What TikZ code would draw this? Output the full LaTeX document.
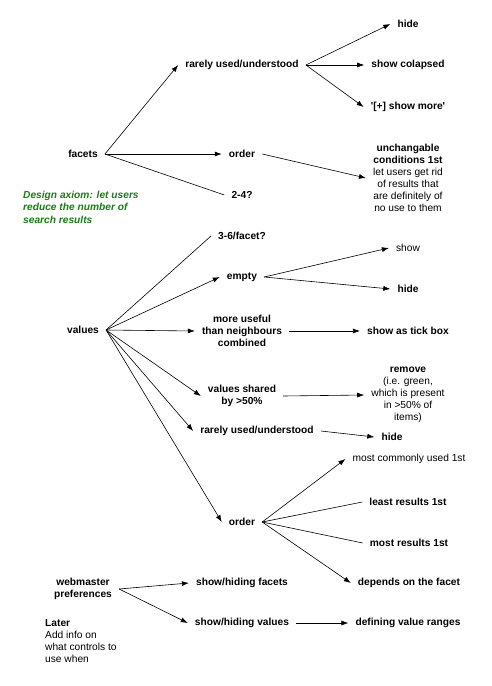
\documentclass[tikz,border=0pt]{standalone}
\usepackage{fontspec}
\setmainfont{Liberation Sans}
\usetikzlibrary{arrows.meta}
\definecolor{axiomgreen}{RGB}{25,125,20}
\begin{document}
\begin{tikzpicture}[
    x=1pt, y=-1pt,
    item/.style={inner xsep=7pt, inner ysep=2pt, align=center, font=\fontsize{10.2}{12}\selectfont\bfseries},
    plain/.style={item, font=\fontsize{10.2}{12}\selectfont},
    note/.style={inner sep=0pt, anchor=west, align=left, font=\fontsize{10.2}{12.3}\selectfont},
    axiom/.style={note, text=axiomgreen, font=\fontsize{10.2}{12.5}\selectfont\bfseries\itshape},
    arrow/.style={line width=0.6pt,-{Latex[length=7pt,width=5pt]}},
    link/.style={line width=0.6pt}
]
\useasboundingbox (0,0) rectangle (491,686);

% Facets branch
\node (facets) [item] at (83,154) {facets};
\node (rarely) [item] at (242,65) {rarely used/understood};
\node (order) [item] at (242,154) {order};
\node (twofour) [item] at (242,195) {2-4?};
\node (hide) [item] at (408,24) {hide};
\node (collapsed) [item] at (408,65) {show colapsed};
\node (showmore) [item] at (408,107) {\textquotesingle[+] show more\textquotesingle};
\node (unchangable) [plain] at (408,178) {\textbf{unchangable}\\\textbf{conditions 1st}\\let users get rid\\of results that\\are definitely of\\no use to them};
\node (axiom) [axiom] at (23,207) {Design axiom: let users\\reduce the number of\\search results};

% Values branch
\node (values) [item] at (83,330) {values};
\node (threesix) [item] at (242,236) {3-6/facet?};
\node (empty) [item] at (242,277) {empty};
\node (useful) [item] at (242,331) {more useful\\than neighbours\\combined};
\node (shared) [item] at (242,396) {values shared\\by >50\%};
\node (rarelyv) [item] at (257,431) {rarely used/understood};
\node (orderv) [item] at (242,522) {order};
\node (show) [plain] at (408,248) {show};
\node (hidee) [item] at (408,289) {hide};
\node (tickbox) [item] at (408,331) {show as tick box};
\node (remove) [plain] at (408,395) {\textbf{remove}\\(i.e. green,\\which is present\\in >50\% of\\items)};
\node (hider) [item] at (392,437) {hide};
\node (common) [plain] at (409,459) {most commonly used 1st};
\node (least) [item] at (408,502) {least results 1st};
\node (most) [item] at (409,543) {most results 1st};
\node (depends) [item] at (409,583) {depends on the facet};

% Webmaster branch
\node (webmaster) [item] at (83,589) {webmaster\\preferences};
\node (facetsw) [item] at (242,583) {show/hiding facets};
\node (valuesw) [item] at (242,623) {show/hiding values};
\node (ranges) [item] at (408,623) {defining value ranges};
\node (later) [note] at (45,641) {\textbf{Later}\\Add info on\\what controls to\\use when};

% Facets connectors
\draw[arrow] (facets.east) -- (rarely.west);
\draw[arrow] (facets.east) -- (order.west);
\draw[link] (facets.east) -- (twofour.west);
\draw[arrow] (rarely.east) -- (hide.west);
\draw[arrow] (rarely.east) -- (collapsed.west);
\draw[arrow] (rarely.east) -- (showmore.west);
\draw[arrow] (order.east) -- (unchangable.west);

% Values connectors
\draw[link] (values.east) -- (threesix.west);
\draw[arrow] (values.east) -- (empty.west);
\draw[arrow] (values.east) -- (useful.west);
\draw[arrow] (values.east) -- (shared.west);
\draw[arrow] (values.east) -- (rarelyv.west);
\draw[arrow] (values.east) -- (orderv.west);
\draw[arrow] (empty.east) -- (show.west);
\draw[arrow] (empty.east) -- (hidee.west);
\draw[arrow] (useful.east) -- (tickbox.west);
\draw[arrow] (shared.east) -- (remove.west);
\draw[arrow] (rarelyv.east) -- (hider.west);
\draw[arrow] (orderv.east) -- (common.west);
\draw[link] (orderv.east) -- (least.west);
\draw[link] (orderv.east) -- (most.west);
\draw[arrow] (orderv.east) -- (depends.west);

% Webmaster connectors
\draw[arrow] (webmaster.east) -- (facetsw.west);
\draw[arrow] (webmaster.east) -- (valuesw.west);
\draw[arrow] (valuesw.east) -- (ranges.west);

\end{tikzpicture}
\end{document}
